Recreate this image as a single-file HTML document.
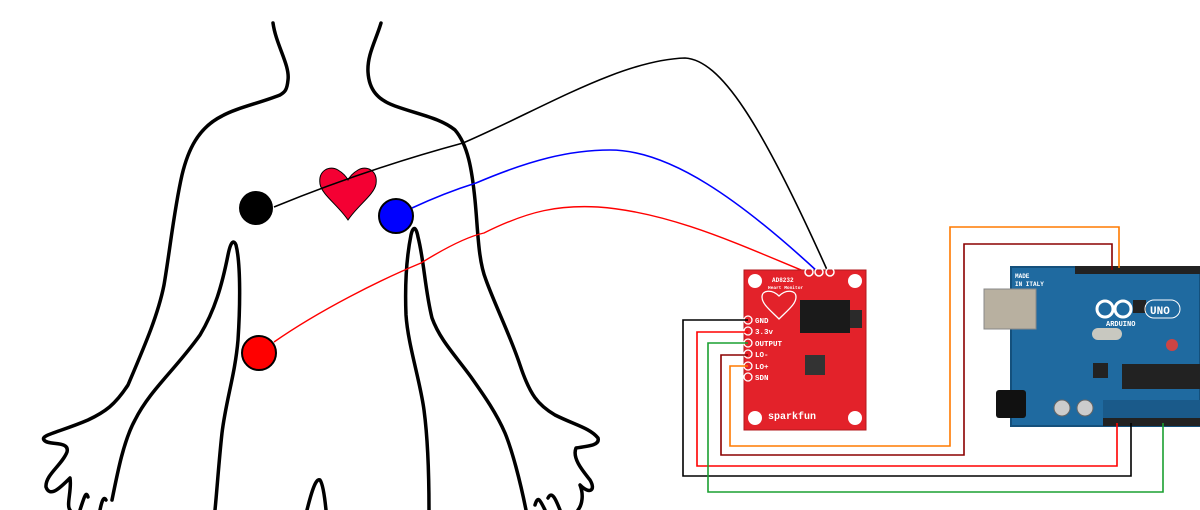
<!DOCTYPE html>
<html><head><meta charset="utf-8"><style>
html,body{margin:0;padding:0;background:#fff;}
svg{display:block;}
text{font-family:"Liberation Mono",monospace;font-weight:bold;}
</style></head><body>
<svg width="1200" height="510" viewBox="0 0 1200 510" xmlns="http://www.w3.org/2000/svg">
<g fill="none" stroke="#000" stroke-width="3.5" stroke-linecap="round" stroke-linejoin="round">
<!-- left outline -->
<path d="M273 23 C276 45 290 65 288 80 C287 90 285 92 280 95 C260 103 236 108 222 116 C198 128 188 150 182 175 C174 210 170 250 164 285 C158 315 145 345 128 385 C115 405 105 412 88 420 C60 432 40 435 44 440 C48 446 70 440 67 452 C62 465 45 475 46 487 C50 498 60 488 70 478 C72 490 66 505 70 510"/>
<path d="M80 510 C84 498 86 490 88 497 M100 510 C102 500 104 496 106 500 M112 500 C118 470 124 440 135 420 C150 390 175 370 200 335 C215 310 222 285 228 255 C231 240 234 240 236 245 C241 265 240 310 238 340 C235 375 226 400 222 433 C219 460 217 490 215 510"/>
<!-- right outline -->
<path d="M381 23 C376 40 367 55 368 72 C369 90 378 100 395 106 C420 115 440 118 455 130 C468 145 472 170 475 200 C478 230 478 260 486 280 C495 305 510 335 520 365 C530 395 538 405 555 415 C575 425 590 428 598 438 C600 445 590 446 576 448 C572 458 582 470 590 480 C596 490 590 495 580 485 C584 495 582 505 578 510"/>
<path d="M560 510 C556 500 552 490 548 498 M545 510 C540 500 538 495 535 505 M526 510 C520 480 512 450 505 433 C495 410 480 390 471 377 C455 355 440 340 432 318 C425 290 424 260 418 237 C416 226 413 226 411 235 C406 260 405 290 406 315 C408 345 420 380 424 410 C428 440 429 480 429 510"/>
<path d="M307 510 C312 490 316 478 320 480 C323 484 325 500 326 510"/>
</g>
<!-- heart -->
<path d="M348 220 C338 205 322 195 320 184 C318 170 330 165 338 170 C343 173 346 176 348 180 C350 176 353 173 358 170 C366 165 378 170 376 184 C374 195 358 205 348 220 Z" fill="#f40033" stroke="#000" stroke-width="1"/>
<!-- electrode wires -->
<path d="M274 207 C340 180 400 160 463 143 C540 110 620 60 685 58 C720 60 760 120 828 272" fill="none" stroke="#000" stroke-width="1.6"/>
<path d="M412 208 C440 195 460 188 476 183 C530 160 570 150 610 150 C670 150 740 200 818 272" fill="none" stroke="#0000ff" stroke-width="1.6"/>
<path d="M274 342 C320 310 380 280 421 263 C450 245 470 236 484 233 C530 210 560 205 598 207 C670 212 740 245 806 272" fill="none" stroke="#f00" stroke-width="1.4"/>
<!-- electrodes -->
<ellipse cx="256" cy="208" rx="17" ry="17" fill="#000"/>
<ellipse cx="396" cy="216" rx="17" ry="17" fill="#0000ff" stroke="#000" stroke-width="2"/>
<ellipse cx="259" cy="353" rx="17" ry="17" fill="#f00" stroke="#000" stroke-width="2"/>
<!-- arduino -->
<rect x="1011" y="267" width="189" height="159" fill="#1f6aa0"/>
<rect x="1011" y="267" width="189" height="159" fill="none" stroke="#14507c" stroke-width="2"/>
<rect x="1075" y="266" width="125" height="8" fill="#222"/>
<rect x="1103" y="400" width="97" height="26" fill="#1a5a8a"/>
<rect x="1103" y="418" width="97" height="8" fill="#222"/>
<rect x="984" y="289" width="52" height="40" fill="#b8b0a0" stroke="#888"/>
<rect x="996" y="390" width="30" height="28" rx="3" fill="#111"/>
<rect x="1092" y="328" width="30" height="12" rx="6" fill="#c8c8c0"/>
<rect x="1093" y="363" width="15" height="15" fill="#222"/>
<rect x="1133" y="300" width="13" height="13" fill="#222"/>
<rect x="1122" y="364" width="78" height="25" fill="#222"/>
<circle cx="1062" cy="408" r="8" fill="#ccc" stroke="#666"/>
<circle cx="1085" cy="408" r="8" fill="#ccc" stroke="#666"/>
<circle cx="1172" cy="345" r="6" fill="#c44"/>
<text x="1015" y="278" font-size="6" fill="#fff">MADE</text>
<text x="1015" y="286" font-size="6" fill="#fff">IN ITALY</text>
<circle cx="1105" cy="309" r="8" fill="none" stroke="#fff" stroke-width="3"/>
<circle cx="1123" cy="309" r="8" fill="none" stroke="#fff" stroke-width="3"/>
<text x="1106" y="326" font-size="7" fill="#fff">ARDUINO</text>
<rect x="1145" y="300" width="35" height="18" rx="9" fill="none" stroke="#fff" stroke-width="1"/>
<text x="1150" y="314" font-size="11" fill="#fff" font-weight="normal">UNO</text>
<!-- sparkfun board -->
<rect x="744" y="270" width="122" height="160" fill="#e3222a" stroke="#b01a1e"/>
<circle cx="755" cy="281" r="7" fill="#fff"/><circle cx="855" cy="281" r="7" fill="#fff"/>
<circle cx="755" cy="418" r="7" fill="#fff"/><circle cx="855" cy="418" r="7" fill="#fff"/>
<circle cx="809" cy="272" r="4" fill="none" stroke="#fff" stroke-width="1.5"/>
<circle cx="819" cy="272" r="4" fill="none" stroke="#fff" stroke-width="1.5"/>
<circle cx="830" cy="272" r="4" fill="none" stroke="#fff" stroke-width="1.5"/>
<text x="772" y="282" font-size="6" fill="#fff">AD8232</text>
<text x="768" y="289" font-size="4.5" fill="#fff">Heart Monitor</text>
<path d="M779 319 C770 310 762 304 762 297 C762 290 772 289 779 296 C786 289 796 290 796 297 C796 304 788 310 779 319Z" fill="none" stroke="#fff" stroke-width="1.3"/>
<rect x="800" y="300" width="50" height="33" fill="#1a1a1a"/>
<rect x="850" y="310" width="12" height="18" fill="#2a2a2a"/>
<rect x="805" y="355" width="20" height="20" fill="#333"/>
<g fill="none" stroke="#fff" stroke-width="1.3">
<circle cx="748" cy="320" r="4"/><circle cx="748" cy="331" r="4"/><circle cx="748" cy="343" r="4"/>
<circle cx="748" cy="354" r="4"/><circle cx="748" cy="366" r="4"/><circle cx="748" cy="377" r="4"/>
</g>
<g font-size="7.5" fill="#fff">
<text x="755" y="323">GND</text><text x="755" y="334">3.3v</text><text x="755" y="346">OUTPUT</text>
<text x="755" y="357">LO-</text><text x="755" y="369">LO+</text><text x="755" y="380">SDN</text>
</g>
<text x="768" y="419" font-size="10" fill="#fff" font-family="Liberation Sans,sans-serif">sparkfun</text>
<!-- arduino wires -->
<g fill="none" stroke-width="1.6">
<polyline points="748,366 730,366 730,446 950,446 950,227 1119,227 1119,268" stroke="#ff7a00"/>
<polyline points="748,355 721,355 721,455 964,455 964,244 1112,244 1112,270" stroke="#8b0000"/>
<polyline points="748,332 697,332 697,466 1117,466 1117,423" stroke="#f00"/>
<polyline points="748,320 683,320 683,476 1131,476 1131,423" stroke="#000"/>
<polyline points="748,343 708,343 708,492 1163,492 1163,423" stroke="#1aa030"/>
</g>
</svg>
</body></html>
